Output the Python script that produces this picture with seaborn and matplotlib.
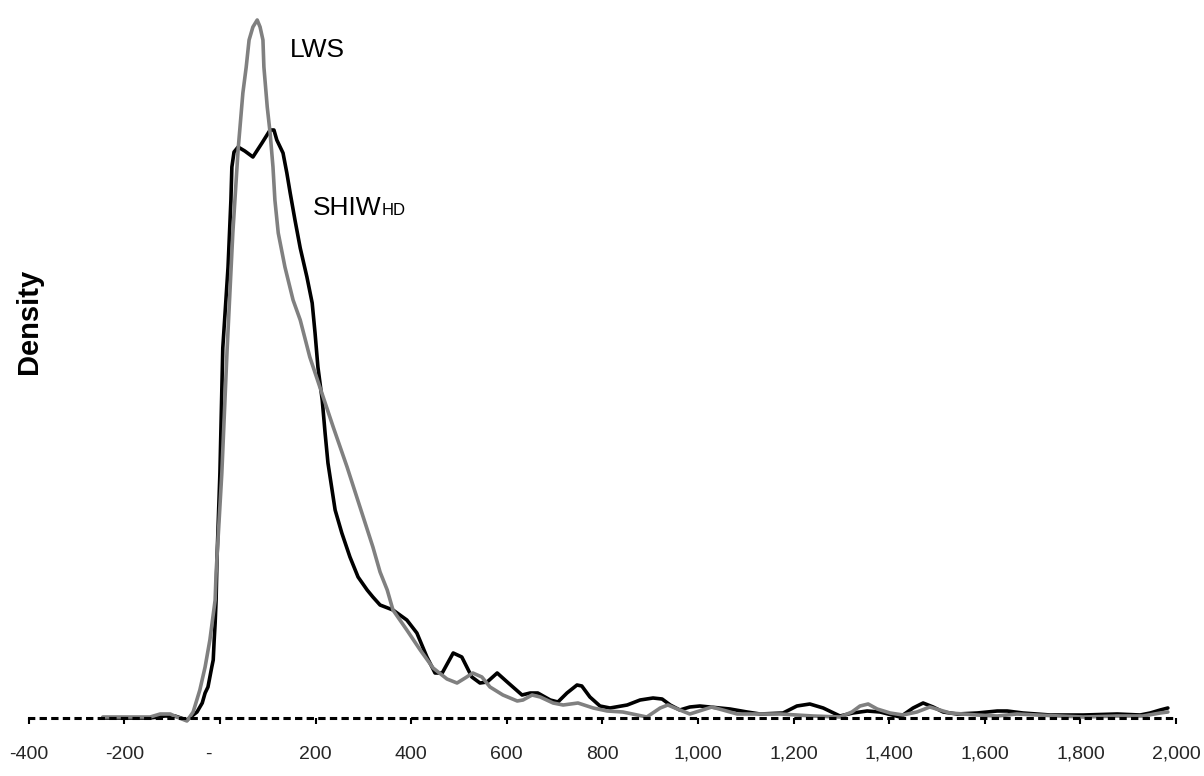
import numpy as np
import pandas as pd
import matplotlib
matplotlib.use("Agg")
import matplotlib.pyplot as plt
import matplotlib.transforms as mtransforms
import seaborn as sns

# SHIW-HD density curve (x in thousands, density in arbitrary units x1e-3)
shiw_x = [-245, -146, -115, -94, -69, -48, -37, -31, -25, -17, -14, -12, -10, -8, -6,
          0, 6, 17, 23, 25, 29.5, 38, 52, 69, 88, 105, 113, 119, 132, 140, 147, 157,
          168, 182, 193, 199, 205, 214, 220, 226, 241, 255, 272, 289, 308, 320, 335,
          362, 391, 412, 433, 450, 465, 488, 506, 527, 544, 559, 580, 601, 632, 649,
          665, 691, 707, 726, 747, 757, 774, 795, 816, 852, 879, 906, 925, 942, 962,
          983, 1004, 1067, 1103, 1130, 1178, 1207, 1234, 1262, 1297, 1324, 1354, 1381,
          1423, 1450, 1471, 1492, 1513, 1542, 1584, 1626, 1647, 1680, 1737, 1806, 1877,
          1925, 1946, 1967, 1983]
shiw_y = [0.00, 0.00, 0.02, 0.02, -0.02, 0.06, 0.15, 0.25, 0.31, 0.51, 0.58, 0.78, 0.95,
          1.18, 1.61, 2.45, 3.70, 4.51, 5.18, 5.51, 5.66, 5.71, 5.67, 5.61, 5.75, 5.88,
          5.88, 5.78, 5.65, 5.45, 5.25, 4.98, 4.70, 4.41, 4.15, 3.85, 3.51, 3.18, 2.85,
          2.55, 2.08, 1.85, 1.61, 1.41, 1.28, 1.21, 1.13, 1.08, 0.98, 0.85, 0.61, 0.45,
          0.45, 0.65, 0.61, 0.41, 0.35, 0.36, 0.45, 0.36, 0.23, 0.25, 0.25, 0.18, 0.16,
          0.25, 0.33, 0.32, 0.21, 0.12, 0.10, 0.13, 0.18, 0.20, 0.19, 0.13, 0.08, 0.11,
          0.12, 0.09, 0.06, 0.04, 0.05, 0.12, 0.14, 0.10, 0.02, 0.05, 0.07, 0.06, 0.01,
          0.10, 0.15, 0.11, 0.06, 0.04, 0.05, 0.07, 0.07, 0.05, 0.03, 0.03, 0.04, 0.03,
          0.05, 0.08, 0.10]

# LWS density curve
lws_x = [-245, -146, -125, -104, -90, -69, -56, -42, -31, -21, -10, -8, 4, 15, 27, 38,
         48, 55, 61, 69, 78, 84, 90, 92, 99, 105, 111, 115, 122, 136, 153, 168, 188,
         209, 237, 266, 293, 320, 335, 350, 362, 391, 419, 446, 475, 496, 513, 529,
         548, 565, 592, 622, 634, 653, 670, 697, 718, 749, 781, 810, 843, 873, 893,
         921, 937, 962, 983, 1029, 1052, 1082, 1172, 1241, 1297, 1322, 1339, 1356,
         1375, 1402, 1429, 1458, 1485, 1506, 1527, 1584, 1626, 1667, 1709, 1806, 1877,
         1931, 1967, 1983]
lws_y = [0.01, 0.01, 0.04, 0.04, 0.01, -0.03, 0.06, 0.28, 0.51, 0.78, 1.18, 1.45, 2.45,
         3.68, 4.85, 5.68, 6.25, 6.51, 6.78, 6.91, 6.98, 6.91, 6.78, 6.51, 6.11, 5.85,
         5.51, 5.18, 4.85, 4.51, 4.18, 3.98, 3.61, 3.31, 2.91, 2.51, 2.11, 1.71, 1.46,
         1.28, 1.08, 0.88, 0.68, 0.50, 0.39, 0.35, 0.40, 0.45, 0.41, 0.31, 0.23, 0.17,
         0.18, 0.23, 0.21, 0.15, 0.13, 0.15, 0.10, 0.07, 0.06, 0.03, 0.01, 0.10, 0.13,
         0.08, 0.04, 0.11, 0.08, 0.04, 0.04, 0.02, 0.01, 0.06, 0.12, 0.14, 0.09, 0.05,
         0.03, 0.06, 0.11, 0.08, 0.05, 0.03, 0.02, 0.04, 0.03, 0.01, 0.02, 0.02, 0.05,
         0.06]

tick_values = list(range(-400, 2001, 200))
tick_labels = ["-400", "-200", "-", "200", "400", "600", "800", "1,000", "1,200",
               "1,400", "1,600", "1,800", "2,000"]

sns.set_theme(style="white")
plt.rcParams["font.family"] = ["Liberation Sans", "DejaVu Sans"]

fig = plt.figure(figsize=(12.04, 7.76), dpi=100)
ax = fig.add_axes([0.02384, 0.07474, 0.9529, 0.91237])

shiw = pd.DataFrame({"x": shiw_x, "density": shiw_y})
lws = pd.DataFrame({"x": lws_x, "density": lws_y})

sns.lineplot(data=shiw, x="x", y="density", ax=ax, color="black", linewidth=2.6,
             sort=False, estimator=None, clip_on=False)
sns.lineplot(data=lws, x="x", y="density", ax=ax, color="#808080", linewidth=2.6,
             sort=False, estimator=None, clip_on=False)

ax.set_xlim(-400, 2000)
ax.set_ylim(0, 7.08)

for side in ["top", "right", "left"]:
    ax.spines[side].set_visible(False)
ax.spines["bottom"].set_linestyle((0, (1.4, 2.4)))
ax.spines["bottom"].set_linewidth(2.2)
ax.spines["bottom"].set_color("black")

ax.set_xticks(tick_values)
ax.set_xticklabels(tick_labels)
ax.set_yticks([])
ax.tick_params(axis="x", direction="out", length=4, width=1.5, color="black",
               labelsize=14, pad=16, bottom=True)
# the zero label "-" sits a bit left of its tick
zero_lbl = ax.get_xticklabels()[2]
zero_lbl.set_transform(zero_lbl.get_transform() +
                       mtransforms.ScaledTranslation(-0.12, 0, fig.dpi_scale_trans))

ax.set_xlabel("")
ax.set_ylabel("Density", fontsize=21, fontweight="bold", color="black")
ax.yaxis.set_label_coords(0.0125, 0.56)

ax.text(146, 6.61, "LWS", fontsize=19, va="baseline", ha="left", color="black")
t = ax.text(195, 5.03, "SHIW", fontsize=19, va="baseline", ha="left", color="black")
ax.annotate("HD", xy=(1, 0), xycoords=t, xytext=(0, 1.5), textcoords="offset points",
            fontsize=12, va="bottom", ha="left", color="black")

fig.savefig("out.png", dpi=100)
